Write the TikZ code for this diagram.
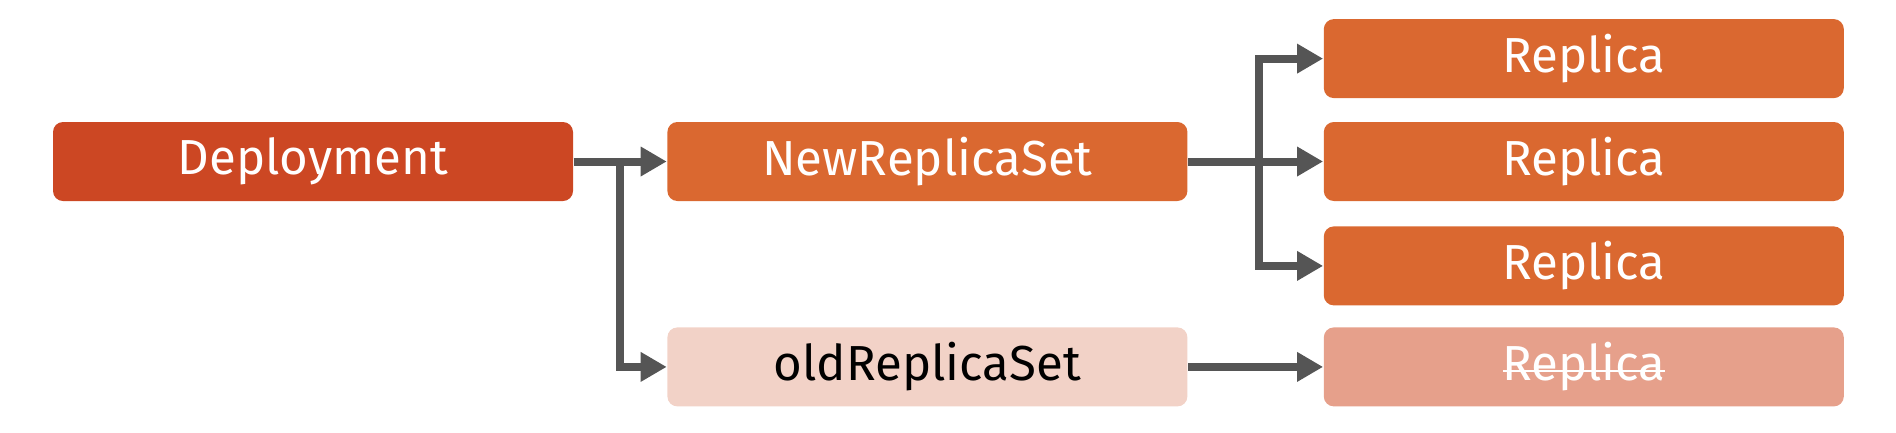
\documentclass[tikz,border=0pt]{standalone}
\usepackage{fontspec}
\setmainfont{Fira Sans}
\usetikzlibrary{arrows.meta, positioning}
\definecolor{deploy}{HTML}{CC4723}
\definecolor{newrs}{HTML}{DA6830}
\definecolor{oldrs}{HTML}{F2D2C7}
\definecolor{oldrep}{HTML}{E6A08B}
\definecolor{arrowgray}{HTML}{555555}

\begin{document}
\begin{tikzpicture}[
    box/.style={rectangle, rounded corners=0.1cm, minimum width=5.2cm, minimum height=0.79cm,
      inner sep=0pt, text=white, font=\fontsize{14}{16}\selectfont},
    link/.style={draw=arrowgray, line width=0.08cm, -{Triangle[length=0.26cm, width=0.28cm]}}]
    \useasboundingbox (0,0) rectangle (18.96,4.32);

    % Deployment va hai ReplicaSet
    \node[box, fill=deploy] (deploy) at (3.13,2.705) {Deployment};
    \node[box, fill=newrs, right=0.93cm of deploy] (newrs) {NewReplicaSet};
    \node[box, fill=oldrs, text=black, below=1.25cm of newrs] (oldrs) {oldReplicaSet};

    % cac Replica
    \node[box, fill=newrs, right=1.35cm of newrs] (rep2) {Replica};
    \node[box, fill=newrs, above=0.225cm of rep2] (rep1) {Replica};
    \node[box, fill=newrs, below=0.24cm of rep2] (rep3) {Replica};
    \node[box, fill=oldrep, right=1.35cm of oldrs] (rep4) {Replica};
    % gach ngang chu Replica cu
    \draw[white, line width=0.025cm] ([xshift=-0.81cm, yshift=0.1cm]rep4.base) -- ([xshift=0.81cm, yshift=0.1cm]rep4.base);

    % diem re nhanh
    \coordinate (dsplit) at ([xshift=0.46cm]deploy.east);
    \coordinate (nsplit) at ([xshift=0.71cm]newrs.east);

    % mui ten tu Deployment
    \draw[link] (deploy.east) -- (newrs.west);
    \draw[link] (dsplit) |- (oldrs.west);

    % mui ten toi cac Replica
    \draw[link] (newrs.east) -- (rep2.west);
    \draw[link] (nsplit) |- (rep1.west);
    \draw[link] (nsplit) |- (rep3.west);
    \draw[link] (oldrs.east) -- (rep4.west);
\end{tikzpicture}
\end{document}
